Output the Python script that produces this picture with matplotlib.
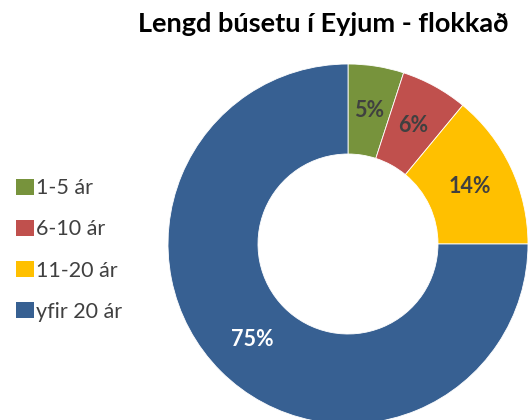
import matplotlib
matplotlib.use("Agg")
import matplotlib.pyplot as plt
from matplotlib.patches import Patch

categories = ["1-5 ár", "6-10 ár", "11-20 ár", "yfir 20 ár"]
values = [5, 6, 14, 75]
colors = ["#77933C", "#C0504D", "#FFC000", "#376092"]
label_colors = ["#404040", "#404040", "#404040", "#FFFFFF"]
title = "Lengd búsetu í Eyjum - flokkað"

plt.rcParams['font.family'] = ['Lato', 'DejaVu Sans']

W, H = 529, 420
fig = plt.figure(figsize=(W / 100, H / 100), dpi=100)
ax = fig.add_axes([0, 0, 1, 1])

R = 180
cx, cy = 348, H - 244
wedges, texts, autotexts = ax.pie(
    values, colors=colors, startangle=90, counterclock=False,
    radius=R, center=(cx, cy),
    wedgeprops=dict(width=90, edgecolor="white", linewidth=0.6),
    autopct=lambda p: f"{p:.0f}%", pctdistance=135 / R,
    textprops=dict(fontsize=15.5, fontweight="bold"))
for t, c in zip(autotexts, label_colors):
    t.set_color(c)

ax.set_xlim(0, W)
ax.set_ylim(0, H)
ax.set_aspect("equal")
ax.axis("off")

fig.text(323 / W, 1 - 24 / H, title, ha="center", va="center",
         fontsize=19.5, fontweight="bold", color="black")

handles = [Patch(facecolor=c, edgecolor="none") for c in colors]
leg = fig.legend(handles, categories, loc="center left",
                 bbox_to_anchor=(-3 / W, 1 - 250 / H), frameon=False,
                 fontsize=15.5, handlelength=0.8, handleheight=0.8,
                 handletextpad=0.12, labelspacing=0.98, labelcolor="#404040")

fig.savefig("out.png", dpi=100)
